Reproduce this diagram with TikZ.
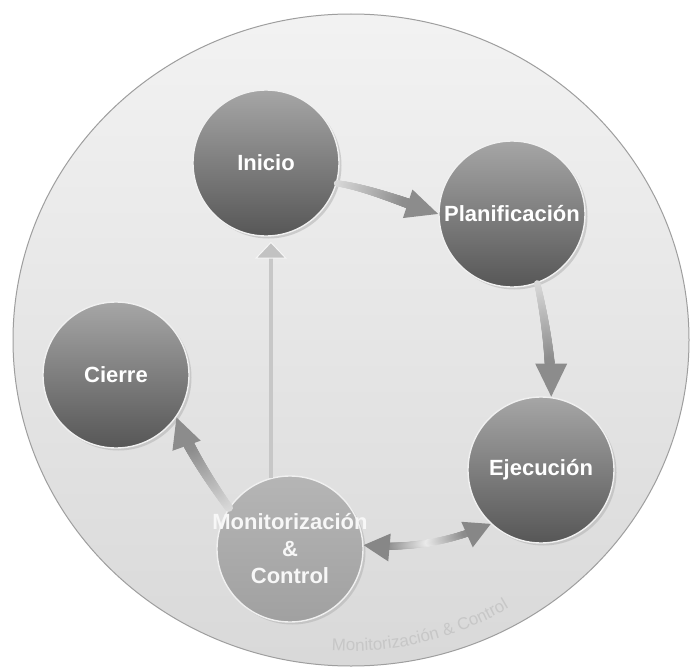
\documentclass[tikz,border=0pt]{standalone}
\usepackage{fontspec}
\setmainfont{Liberation Sans}
\usetikzlibrary{decorations.markings,decorations.text,shadows,calc,arrows.meta}
\begin{document}
\begin{tikzpicture}[x=1pt,y=-1pt,
  stage/.style={circle, minimum size=146pt, inner sep=0pt, draw=white!94!black, line width=1.4pt,
     top color=black!35!white, bottom color=black!66!white, text=white,
     font=\fontsize{22}{27}\selectfont\bfseries, align=center,
     drop shadow={shadow xshift=2.5pt, shadow yshift=-2.5pt, fill=black!30!white, opacity=0.55}},
  monstage/.style={stage, top color=black!29!white, bottom color=black!37!white},
  montext/.style={text=white!97!black, font=\fontsize{22}{27}\selectfont\bfseries, align=center, inner sep=0pt},
  vline/.style={line width=4pt, draw=black!22!white,
     -{Triangle[width=32pt,length=17pt,color=white!96!black,fill=black!24!white,line width=1pt]}},
  garrow/.style n args={6}{postaction={decorate,decoration={markings,
     mark=between positions 0 and -#5pt step 0.4pt with {%
       \pgfmathsetmacro\gf{min(1,(\pgfkeysvalueof{/pgf/decoration/mark info/sequence number}-1)*0.4/(\pgfdecoratedpathlength-#5))}%
       \pgfmathsetmacro\gw{0.5*(#1+(#2-#1)*\gf)}%
       \pgfmathsetmacro\gc{#3+(#4-#3)*\gf}%
       \fill[black!\gc!white] (0pt,0pt) circle[radius=\gw pt];},
     mark=at position 1 with {\fill[black!#4!white] (0pt,0pt) -- (-#5pt,0.5*#6pt) -- (-#5pt,-0.5*#6pt) -- cycle;}}}},
  gdarrow/.style n args={5}{postaction={decorate,decoration={markings,
     mark=between positions #4pt and -#4pt step 0.4pt with {%
       \pgfmathsetmacro\gf{(#4+(\pgfkeysvalueof{/pgf/decoration/mark info/sequence number}-1)*0.4)/\pgfdecoratedpathlength}%
       \pgfmathsetmacro\gc{#3+(#2-#3)*min(1,1.6*abs(2*\gf-1))}%
       \fill[black!\gc!white] (0pt,0pt) circle[radius=0.5*#1pt];}}},
     postaction={decorate,decoration={markings,
     mark=at position 0 with {\fill[black!#2!white] (0pt,0pt) -- (#4pt,0.5*#5pt) -- (#4pt,-0.5*#5pt) -- cycle;}}},
     postaction={decorate,decoration={markings,
     mark=at position 1 with {\fill[black!#2!white] (0pt,0pt) -- (-#4pt,0.5*#5pt) -- (-#4pt,-0.5*#5pt) -- cycle;}}}}
]
\useasboundingbox (0,0) rectangle (691,669);
\fill[white] (0,0) rectangle (691,669);
% big background disc
\path[draw=black!38!white, line width=1pt, top color=black!5!white, bottom color=black!15!white]
  (351,340) ellipse [x radius=338, y radius=326];
% watermark text
\path[decorate, decoration={text along path, text align=center,
   text={|\fontsize{17}{17}\selectfont\color{black!22!white}|Monitorización {\&} Control}}]
   (351,340) ++(96:311) arc[start angle=96, end angle=57, radius=311];
% stages
\node[stage] (ini) at (266,163) {Inicio};
\node[stage] (plan) at (512,214) {Planificación};
\node[stage] (cie) at (116,375) {Cierre};
\node[stage] (eje) at (541,470) {Ejecución};
\node[monstage, label={[montext]center:Monitorización\\\&\\Control}] (mon) at (290,549) {};
% connectors
\draw[vline] (mon.105) -- ($(mon.105 |- ini.south)+(0,5)$);
\path[garrow={6}{10}{14}{45}{32}{30}] (ini.-16) .. controls +(30,4) and +(-30,-10) .. (plan.west);
\path[garrow={6}{10}{14}{45}{33}{32}] (plan.-70) .. controls +(8,35) and +(0,-35) .. (eje.82);
\path[garrow={8}{11}{14}{45}{30}{30}] (mon.146) .. controls +(-18,-25) and +(10,28) .. (cie.-35);
\path[gdarrow={7}{47}{8}{26}{28}] (mon.3) .. controls +(45,4) and +(-40,18) .. (eje.-133);
\end{tikzpicture}
\end{document}
